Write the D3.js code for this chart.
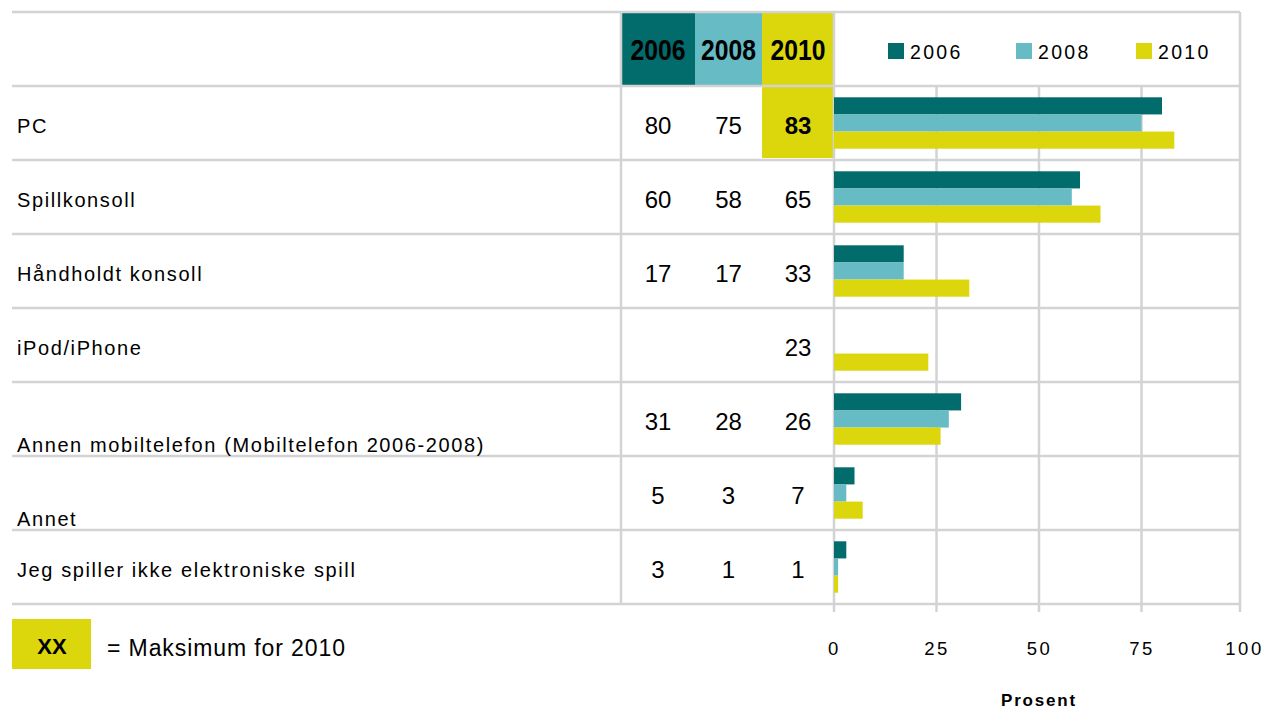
<!DOCTYPE html>
<html>
<head>
<meta charset="utf-8">
<script src="https://cdn.jsdelivr.net/npm/d3@7"></script>
<style>
    body { margin: 0; background: #fff; }
    svg { display: block; font-family: "Liberation Sans", Arial, sans-serif; }
</style>
</head>
<body>
<svg id="chart"></svg>
<script>
const categories = [
    "PC",
    "Spillkonsoll",
    "Håndholdt konsoll",
    "iPod/iPhone",
    "Annen mobiltelefon (Mobiltelefon 2006-2008)",
    "Annet",
    "Jeg spiller ikke elektroniske spill"
];
const years = ["2006", "2008", "2010"];
const values2006 = [80, 60, 17, null, 31, 5, 3];
const values2008 = [75, 58, 17, null, 28, 3, 1];
const values2010 = [83, 65, 33, 23, 26, 7, 1];
const xTicks = [0, 25, 50, 75, 100];

const seriesValues = [values2006, values2008, values2010];
const colors = ["#026b6b", "#66bbc4", "#dcd60c"];

const width = 1266;
const height = 710;
const gridColor = "#d3d3d3";

// layout of the table part
const tableLeft = 12;
const tableTop = 12;
const headerBottom = 86;
const tableBottom = 604;
const plotRight = 1240;
const colEdges = [621, 695, 762, 834];
const bottomAligned = new Set([4, 5]);

const svg = d3.select("#chart").attr("width", width).attr("height", height);

const scaleX = d3.scaleLinear().domain([0, 100]).range([834, 1244]);
const scaleY = d3.scaleBand().domain(d3.range(categories.length)).range([headerBottom, tableBottom]);
const scaleInner = d3.scaleBand().domain(years).range([0, scaleY.bandwidth()]).paddingInner(0).paddingOuter(0.66);

// header boxes
const header = svg.append("g").attr("class", "header");
years.forEach((year, i) => {
    header.append("rect")
        .attr("x", colEdges[i]).attr("y", tableTop)
        .attr("width", colEdges[i + 1] - colEdges[i]).attr("height", headerBottom - tableTop)
        .attr("fill", colors[i]);
    header.append("text")
        .attr("x", (colEdges[i] + colEdges[i + 1]) / 2).attr("y", 52)
        .attr("text-anchor", "middle").attr("dominant-baseline", "middle")
        .attr("textLength", 55).attr("lengthAdjust", "spacingAndGlyphs")
        .style("font-weight", "bold").style("font-size", "29px")
        .text(year);
});

// highlight maximum 2010
const maxIndex = d3.maxIndex(values2010);
svg.append("rect")
    .attr("x", colEdges[2]).attr("y", scaleY(maxIndex))
    .attr("width", colEdges[3] - colEdges[2]).attr("height", scaleY.bandwidth() - 2)
    .attr("fill", colors[2]);

// grid lines
const grid = svg.append("g").attr("class", "gridLines").attr("stroke", gridColor).attr("stroke-width", 2.5);
const rowLines = [tableTop, headerBottom, ...categories.map((d, i) => scaleY(i) + scaleY.bandwidth())];
grid.selectAll("line.h").data(rowLines).join("line").attr("class", "h")
    .attr("x1", tableLeft).attr("x2", plotRight).attr("y1", (d) => d).attr("y2", (d) => d);
grid.append("line").attr("x1", colEdges[0]).attr("x2", colEdges[0]).attr("y1", tableTop).attr("y2", tableBottom);
grid.selectAll("line.v").data(xTicks.slice(0, -1)).join("line").attr("class", "v")
    .attr("x1", (d) => scaleX(d)).attr("x2", (d) => scaleX(d))
    .attr("y1", (d) => (d === 0 ? tableTop : headerBottom))
    .attr("y2", tableBottom + 8);
grid.append("line").attr("x1", plotRight).attr("x2", plotRight).attr("y1", tableTop).attr("y2", tableBottom + 8);

// row labels and values
const rows = svg.append("g").attr("class", "rows");
categories.forEach((name, i) => {
    const center = scaleY(i) + scaleY.bandwidth() / 2;
    rows.append("text")
        .attr("x", 17)
        .attr("y", bottomAligned.has(i) ? scaleY(i) + scaleY.bandwidth() - 9 : center + 5)
        .attr("dominant-baseline", "middle")
        .style("font-size", "20px").style("letter-spacing", "1.6px")
        .text(name);
    seriesValues.forEach((series, j) => {
        if (series[i] == null) return;
        rows.append("text")
            .attr("x", (colEdges[j] + colEdges[j + 1]) / 2)
            .attr("y", center + 5)
            .attr("text-anchor", "middle").attr("dominant-baseline", "middle")
            .style("font-size", "24px")
            .style("font-weight", j === 2 && i === maxIndex ? "bold" : "normal")
            .text(series[i]);
    });
});

// bars
const bars = svg.append("g").attr("class", "values");
seriesValues.forEach((series, j) => {
    bars.selectAll(`rect.s${j}`)
        .data(series.map((v, i) => ({ v, i })).filter((d) => d.v != null))
        .join("rect")
        .attr("class", `s${j}`)
        .attr("x", scaleX(0))
        .attr("y", (d) => scaleY(d.i) + scaleInner(years[j]))
        .attr("width", (d) => scaleX(d.v) - scaleX(0))
        .attr("height", scaleInner.bandwidth())
        .attr("fill", colors[j]);
});

// x axis
const xAxis = d3.axisBottom(scaleX).tickValues(xTicks).tickSize(0).tickPadding(0);
const axisG = svg.append("g").attr("transform", `translate(0, 650)`).call(xAxis);
axisG.select(".domain").remove();
axisG.selectAll("text")
    .attr("dy", null).attr("dominant-baseline", "middle")
    .style("font-family", "'Liberation Sans', sans-serif")
    .style("font-size", "18.5px").style("letter-spacing", "2.5px").attr("fill", "#000");

svg.append("text")
    .attr("x", scaleX(50)).attr("y", 702)
    .attr("text-anchor", "middle").attr("dominant-baseline", "middle")
    .style("font-size", "17px").style("font-weight", "bold").style("letter-spacing", "1.8px")
    .text("Prosent");

// legend
const legend = svg.append("g").attr("class", "legend");
const legendX = [888, 1016, 1136];
years.forEach((year, i) => {
    legend.append("rect").attr("x", legendX[i]).attr("y", 43).attr("width", 16).attr("height", 16).attr("fill", colors[i]);
    legend.append("text")
        .attr("x", legendX[i] + 22).attr("y", 54)
        .attr("dominant-baseline", "middle")
        .style("font-size", "19.5px").style("letter-spacing", "2.3px")
        .text(year);
});

// maximum note
svg.append("rect").attr("x", 12).attr("y", 619).attr("width", 79).attr("height", 50).attr("fill", colors[2]);
svg.append("text")
    .attr("x", 52).attr("y", 648)
    .attr("text-anchor", "middle").attr("dominant-baseline", "middle")
    .style("font-size", "22px").style("font-weight", "bold")
    .text("XX");
svg.append("text")
    .attr("x", 107).attr("y", 650)
    .attr("dominant-baseline", "middle")
    .style("font-size", "23px").style("letter-spacing", "0.9px")
    .text("= Maksimum for 2010");
</script>
</body>
</html>
